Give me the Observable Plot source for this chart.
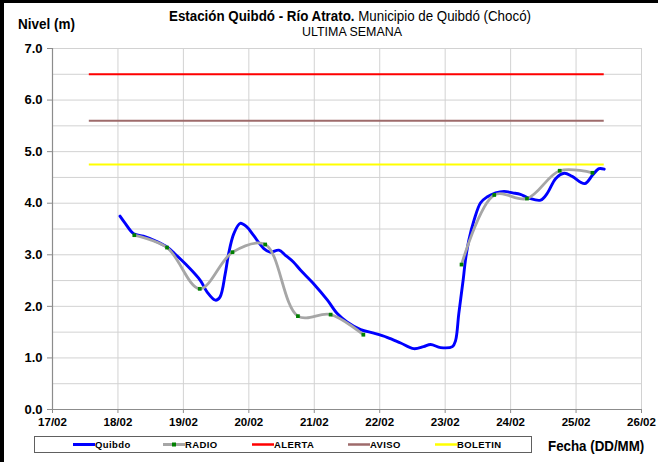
<!DOCTYPE html>
<html>
<head>
<meta charset="utf-8">
<script src="https://cdn.jsdelivr.net/npm/d3@7"></script>
<script src="https://cdn.jsdelivr.net/npm/@observablehq/plot@0.6"></script>
<style>
  html, body { margin: 0; padding: 0; background: #fff; }
  #wrap { position: relative; width: 658px; height: 462px; overflow: hidden; background: #fff;
          font-family: "Liberation Sans", Arial, sans-serif; }
  #chart { position: absolute; left: 0; top: 0; }
  .abs { position: absolute; white-space: nowrap; color: #000; }
  #bl { position: absolute; left: 0; top: 0; width: 4px; height: 462px; background: #000; }
  #bt { position: absolute; left: 0; top: 0; width: 658px; height: 3px; background: #000; }
  #legend { position: absolute; left: 34px; top: 436px; width: 496px; height: 15px; border: 1px solid #606060; background: #fff; }
  .li { position: absolute; top: 0; height: 15px; font-size: 9.5px; font-weight: bold; line-height: 15px; letter-spacing: 0.4px; }
  .li svg { position: absolute; top: 0; }
</style>
</head>
<body>
<div id="wrap">
  <div id="chart"></div>
  <div id="bt"></div>
  <div id="bl"></div>
  <div class="abs" id="ylab" style="left:18px; top:16px; font-size:14.5px; font-weight:bold; transform:scaleX(0.93); transform-origin:left;">Nivel (m)</div>
  <div class="abs" id="title" style="left:0; width:700px; text-align:center; top:8px; font-size:14.5px; transform:scaleX(0.92); transform-origin:350px 0;"><b>Estación Quibdó - Río Atrato.</b> Municipio de Quibdó (Chocó)</div>
  <div class="abs" id="subtitle" style="left:0; width:704px; text-align:center; top:24px; font-size:13.5px; transform:scaleX(0.92); transform-origin:352px 0;">ULTIMA SEMANA</div>
  <div class="abs" id="xlab" style="left:548px; top:437px; font-size:15.5px; font-weight:bold; transform:scaleX(0.86); transform-origin:left;">Fecha (DD/MM)</div>
  <div id="legend"></div>
</div>
<script>
// ---- data ----
const quibdoTime = [
  "2013-02-18T00:45","2013-02-18T02:40","2013-02-18T05:45","2013-02-18T09:20","2013-02-18T13:40",
  "2013-02-18T18:00","2013-02-18T20:50","2013-02-19T01:10","2013-02-19T06:15","2013-02-19T08:40",
  "2013-02-19T11:45","2013-02-19T13:25","2013-02-19T15:20","2013-02-19T16:35","2013-02-19T18:30",
  "2013-02-19T20:50","2013-02-19T23:15","2013-02-20T01:40","2013-02-20T05:30","2013-02-20T07:55",
  "2013-02-20T11:00","2013-02-20T13:25","2013-02-20T16:20","2013-02-20T19:00","2013-02-20T23:45",
  "2013-02-21T04:50","2013-02-21T08:25","2013-02-21T12:00","2013-02-21T17:00","2013-02-21T21:50",
  "2013-02-22T02:40","2013-02-22T07:40","2013-02-22T12:30","2013-02-22T16:05","2013-02-22T18:40",
  "2013-02-22T22:20","2013-02-23T02:40","2013-02-23T03:50","2013-02-23T05:00","2013-02-23T06:40",
  "2013-02-23T07:25","2013-02-23T08:40","2013-02-23T10:35","2013-02-23T13:00","2013-02-23T15:20",
  "2013-02-23T18:30","2013-02-23T21:35","2013-02-24T00:45","2013-02-24T03:35","2013-02-24T06:40",
  "2013-02-24T11:00","2013-02-24T13:25","2013-02-24T16:35","2013-02-24T19:40","2013-02-24T22:35",
  "2013-02-25T03:10","2013-02-25T06:00","2013-02-25T08:25","2013-02-25T10:20"
];
const quibdoLevel = [
  3.75,3.61,3.41,3.36,3.27,
  3.15,3.02,2.80,2.50,2.28,
  2.12,2.18,2.63,3.02,3.41,
  3.61,3.54,3.38,3.12,3.05,
  3.09,2.99,2.86,2.70,2.44,
  2.12,1.86,1.70,1.55,1.48,
  1.40,1.29,1.18,1.22,1.26,
  1.20,1.22,1.34,1.86,2.54,
  2.89,3.28,3.67,4.01,4.12,
  4.20,4.23,4.20,4.17,4.10,
  4.06,4.19,4.48,4.58,4.52,
  4.38,4.54,4.67,4.66
];
const radioTime = [
  "2013-02-18T06:00","2013-02-18T18:00","2013-02-19T06:00","2013-02-19T18:00","2013-02-20T06:00",
  "2013-02-20T18:00","2013-02-21T06:00","2013-02-21T18:00","2013-02-22T06:00","2013-02-22T18:00",
  "2013-02-23T06:00","2013-02-23T18:00","2013-02-24T06:00","2013-02-24T18:00","2013-02-25T06:00"
];
const radioLevel = [3.38,3.14,2.34,3.05,3.20,1.81,1.84,1.45,null,null,2.81,4.16,4.09,4.63,4.59];

const thresholdNames = ["ALERTA","AVISO","BOLETIN"];
const thresholdLevel = [6.5, 5.6, 4.75];
const thresholdStart = "2013-02-17T13:30";
const thresholdEnd = "2013-02-25T10:20";

const seriesNames = ["Quibdo","RADIO","ALERTA","AVISO","BOLETIN"];
const seriesColors = ["#0000ff","#a6a6a6","#ff0000","#9e6b6b","#ffff00"];

const xTickLabels = ["17/02","18/02","19/02","20/02","21/02","22/02","23/02","24/02","25/02","26/02"];
const yTickValues = [0,1,2,3,4,5,6,7];

// ---- build tables ----
const parse = s => new Date(s + "Z");
const quibdo = quibdoTime.map((t, i) => ({t: parse(t), v: quibdoLevel[i]}));
const radio = radioTime.map((t, i) => ({t: parse(t), v: radioLevel[i]}));
const thresholds = thresholdNames.map((n, i) => ({name: n, v: thresholdLevel[i], t1: parse(thresholdStart), t2: parse(thresholdEnd), color: seriesColors[i + 2]}));
const dayTicks = xTickLabels.map(s => new Date(Date.UTC(2013, +s.slice(3) - 1, +s.slice(0, 2))));
const labelOf = new Map(dayTicks.map((d, i) => [+d, xTickLabels[i]]));
const halfSteps = d3.range(0, 7.001, 0.5);

const font = '"Liberation Sans", Arial, sans-serif';

const chart = Plot.plot({
  width: 658,
  height: 462,
  marginLeft: 52,
  marginRight: 17,
  marginTop: 48,
  marginBottom: 53,
  style: {fontFamily: font, background: "transparent", overflow: "visible"},
  x: {type: "utc", domain: [dayTicks[0], dayTicks[dayTicks.length - 1]], label: null},
  y: {domain: [0, 7], label: null},
  marks: [
    Plot.gridY(halfSteps, {stroke: "#d2d2d2", strokeOpacity: 1, strokeWidth: 1}),
    Plot.gridX(dayTicks, {stroke: "#d2d2d2", strokeOpacity: 1, strokeWidth: 1}),
    Plot.ruleX([dayTicks[0]], {stroke: "#8c8c8c", strokeWidth: 1.2}),
    Plot.ruleY([0], {stroke: "#8c8c8c", strokeWidth: 1.2}),
    Plot.axisY({ticks: yTickValues, tickFormat: d3.format(".1f"), tickSize: 5, tickPadding: 5,
      fontSize: 13, fontWeight: "bold", stroke: "#8c8c8c", fill: "#000", label: null}),
    Plot.axisX({ticks: dayTicks, tickFormat: d => labelOf.get(+d), tickSize: 4, tickPadding: 4,
      fontSize: 11.5, fontWeight: "bold", stroke: "#8c8c8c", fill: "#000", label: null}),
    Plot.line(quibdo, {x: "t", y: "v", stroke: seriesColors[0], strokeWidth: 2.9, curve: "catmull-rom"}),
    Plot.line(radio, {x: "t", y: "v", stroke: seriesColors[1], strokeWidth: 2.8, curve: "catmull-rom"}),
    Plot.dot(radio, {x: "t", y: "v", symbol: "square", r: 2.1, fill: "#008000", stroke: null}),
    Plot.ruleY(thresholds, {y: "v", x1: "t1", x2: "t2", stroke: "color", strokeWidth: 2})
  ]
});
document.getElementById("chart").appendChild(chart);

// ---- legend ----
const legend = document.getElementById("legend");
const legendX = [38, 128, 217, 313, 400]; // swatch left, relative to box
seriesNames.forEach((name, i) => {
  const item = document.createElement("div");
  item.className = "li";
  item.style.left = legendX[i] + "px";
  const sw = 22;
  const marker = name === "RADIO" ? `<rect x="${sw/2 - 2}" y="5.5" width="4" height="4" fill="#008000"/>` : "";
  item.innerHTML = `<svg width="${sw}" height="15"><line x1="0" x2="${sw}" y1="7.5" y2="7.5" stroke="${seriesColors[i]}" stroke-width="${i < 2 ? 3 : 2.5}"/>${marker}</svg><span style="margin-left:${sw}px">${name}</span>`;
  legend.appendChild(item);
});
</script>
</body>
</html>
